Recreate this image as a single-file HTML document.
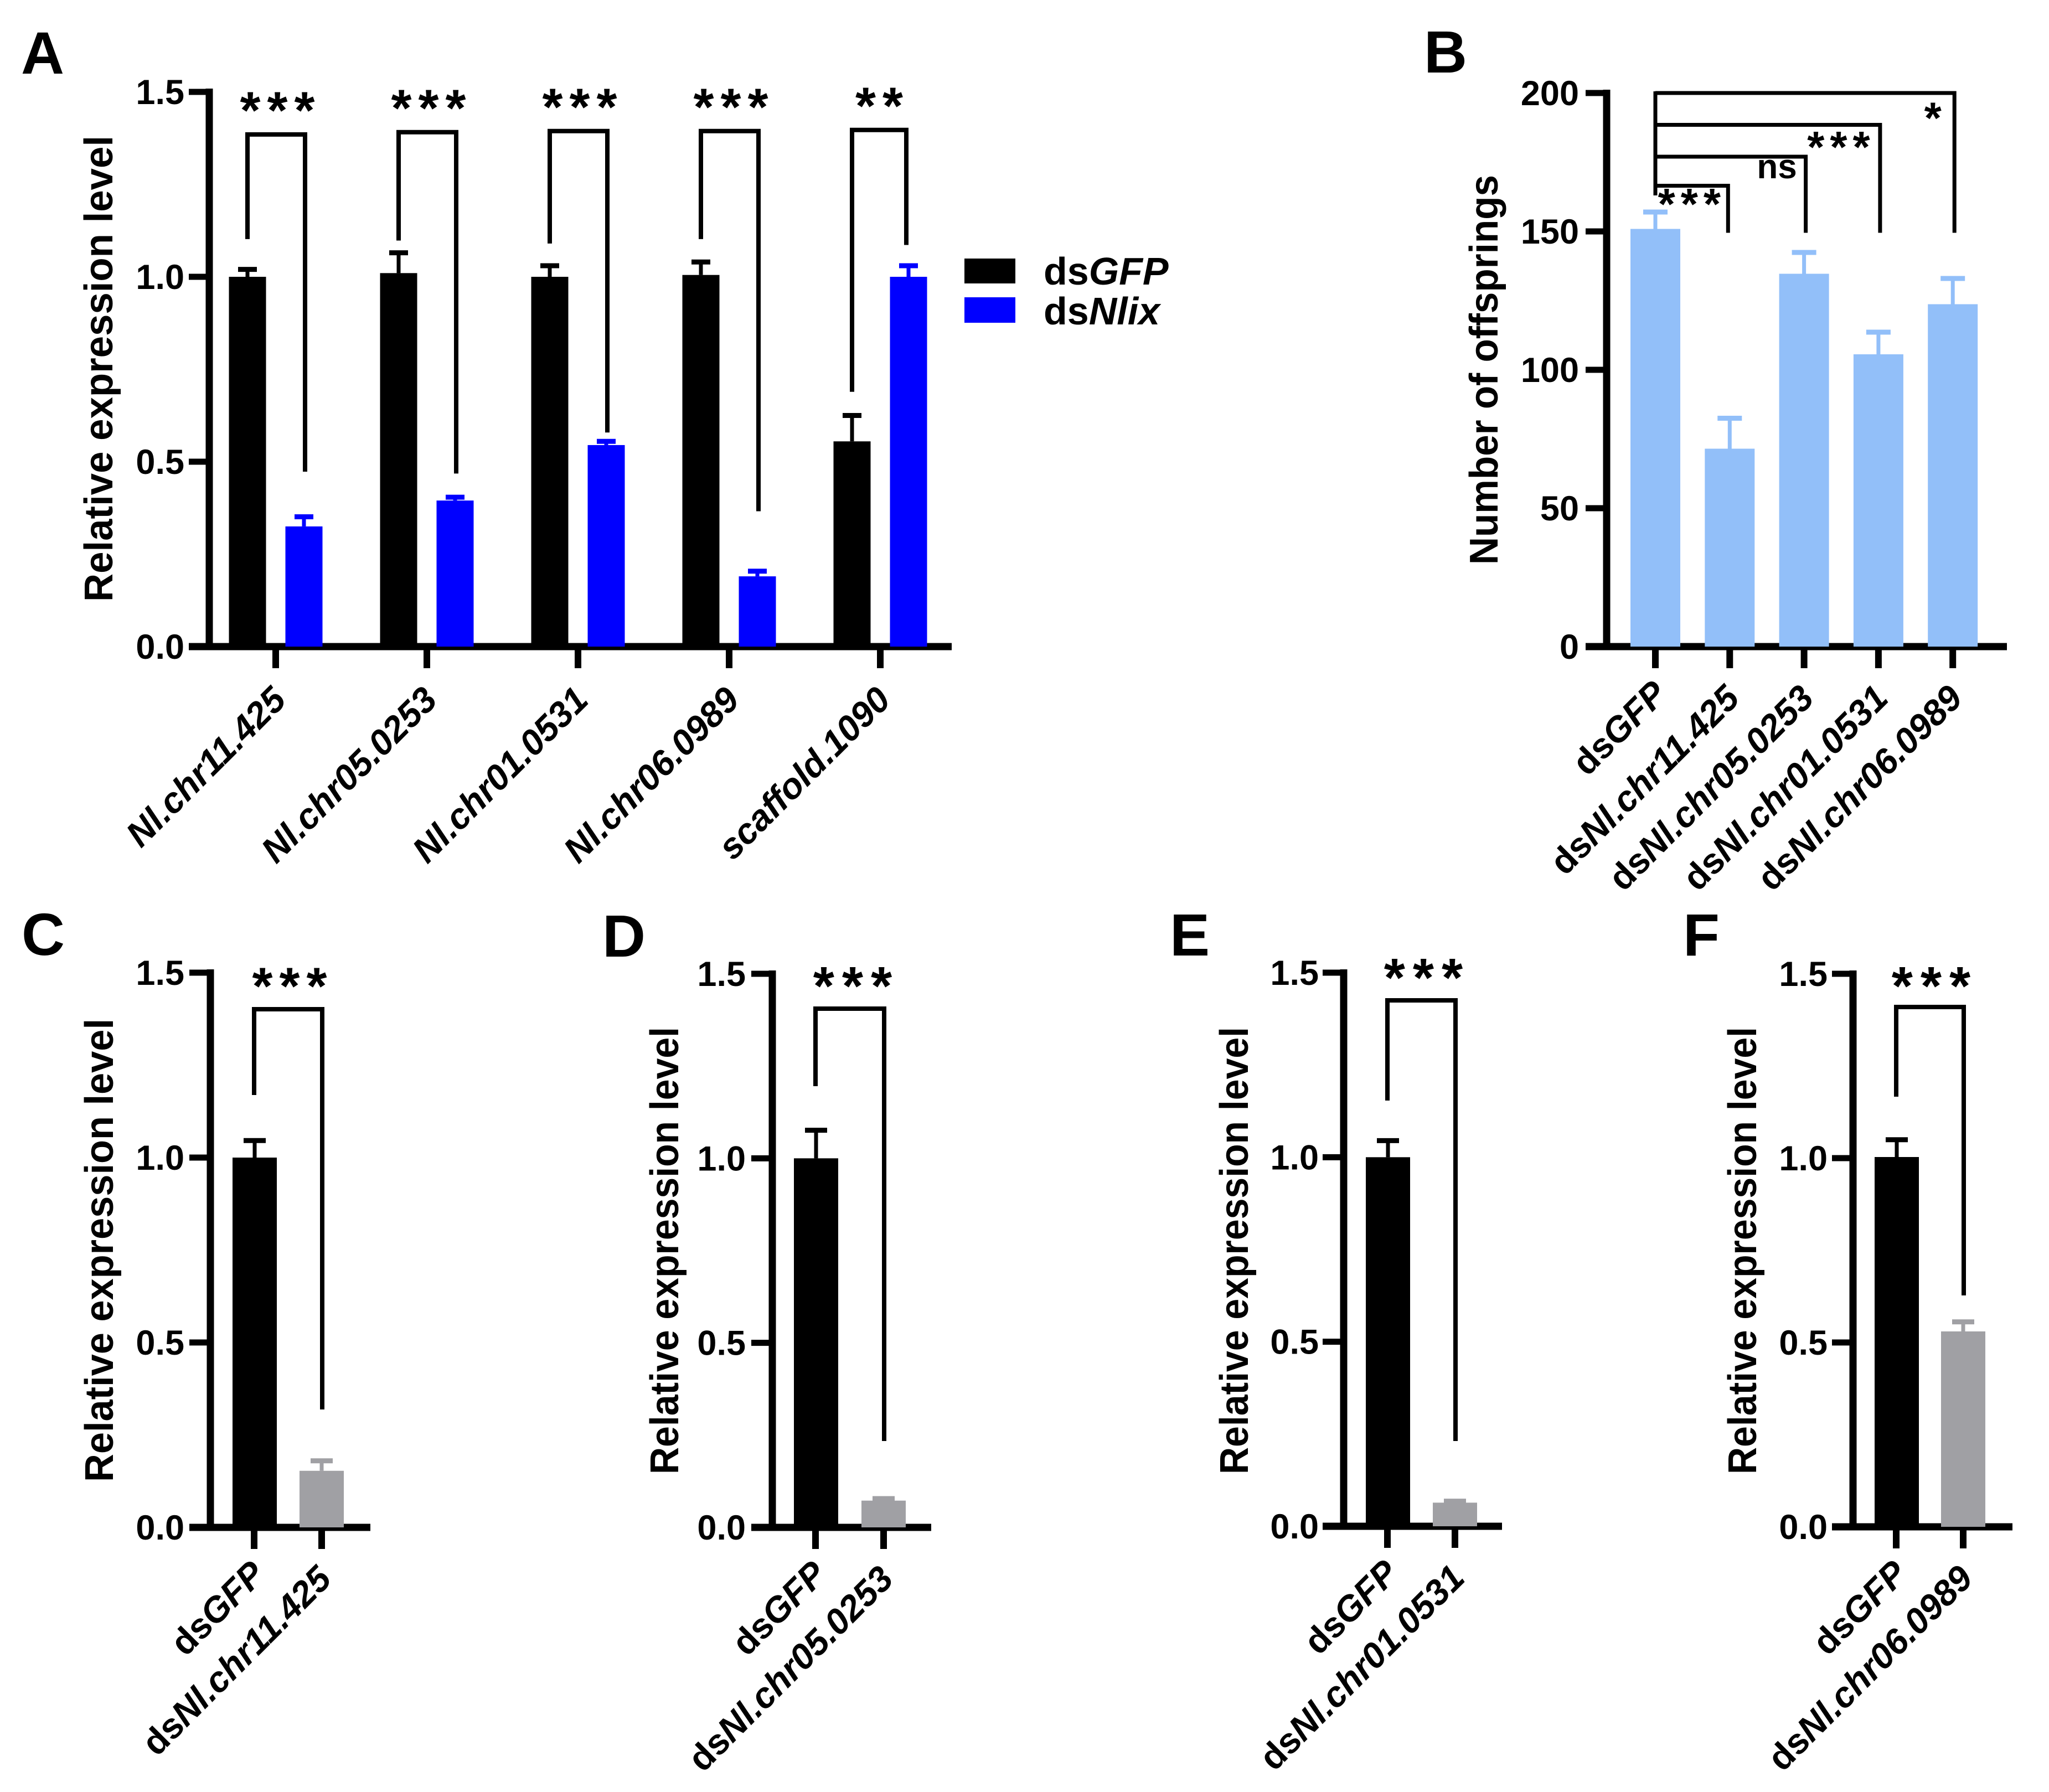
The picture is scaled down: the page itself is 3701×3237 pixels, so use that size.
<!DOCTYPE html>
<html lang="en">
<head>
<meta charset="utf-8">
<title>Relative expression and offspring bar charts</title>
<style>
html,body{margin:0;padding:0;background:#fff}
svg{display:block}
text{font-family:"Liberation Sans",Arial,sans-serif;font-weight:bold;fill:#000}
</style>
</head>
<body>
<svg id="figure" xmlns="http://www.w3.org/2000/svg" width="3701" height="3237" viewBox="0 0 3701 3237"></svg>
<script>
// ---- Panel A data ----
const categoriesA = ['Nl.chr11.425', 'Nl.chr05.0253', 'Nl.chr01.0531', 'Nl.chr06.0989', 'scaffold.1090'];
const dsGFPValuesA = [1.0, 1.01, 1.0, 1.005, 0.555];
const dsGFPErrorTopsA = [1.02, 1.065, 1.03, 1.04, 0.625];
const dsNlixValuesA = [0.325, 0.395, 0.545, 0.19, 1.0];
const dsNlixErrorTopsA = [0.351, 0.404, 0.555, 0.204, 1.03];
const significanceA = ['***', '***', '***', '***', '**'];
const bracketTopsA = [1.385, 1.391, 1.394, 1.394, 1.397];
const bracketLeftEndsA = [1.102, 1.098, 1.09, 1.102, 0.689];
const bracketRightEndsA = [0.473, 0.468, 0.579, 0.366, 1.086];
const yTicksExpression = [0, 0.5, 1.0, 1.5];

// ---- Panel B data ----
const categoriesB = ['GFP', 'Nl.chr11.425', 'Nl.chr05.0253', 'Nl.chr01.0531', 'Nl.chr06.0989'];
const offspringValues = [150.9, 71.5, 134.7, 105.6, 123.7];
const offspringErrorTops = [157, 82.5, 142.4, 113.6, 133];
const yTicksOffspring = [0, 50, 100, 150, 200];
const comparisonTargetsB = [1, 2, 3, 4];
const comparisonLevelsB = [166.5, 177, 188.5, 200];
const comparisonLabelsB = ['***', 'ns', '***', '*'];
const comparisonEndB = 149.5;
const comparisonStartEndB = 163;

// ---- Panels C-F data ----
const categoriesC = ['GFP', 'Nl.chr11.425'];
const valuesC = [1.0, 0.153];
const errorTopsC = [1.046, 0.18];
const categoriesD = ['GFP', 'Nl.chr05.0253'];
const valuesD = [1.0, 0.0725];
const errorTopsD = [1.076, 0.078];
const categoriesE = ['GFP', 'Nl.chr01.0531'];
const valuesE = [1.0, 0.064];
const errorTopsE = [1.045, 0.068];
const categoriesF = ['GFP', 'Nl.chr06.0989'];
const valuesF = [1.003, 0.53];
const errorTopsF = [1.05, 0.556];

const SVG_NS = 'http://www.w3.org/2000/svg';
const root = document.getElementById('figure');

function shape(parent, tag, attrs, name) {
  const el = document.createElementNS(SVG_NS, tag);
  for (const k in attrs) el.setAttribute(k, attrs[k]);
  
  
  parent.appendChild(el);
  return el;
}
function group(name) {
  const el = document.createElementNS(SVG_NS, 'g');
  
  
  root.appendChild(el);
  return el;
}
function label(parent, str, attrs, name) {
  const el = shape(parent, 'text', attrs, name);
  el.textContent = str;
  return el;
}
function linearY(domainMax, y0, yTop) {
  return v => y0 - (v / domainMax) * (y0 - yTop);
}
function line(parent, x1, y1, x2, y2, w, color, name) {
  return shape(parent, 'line', {x1: x1, y1: y1, x2: x2, y2: y2, stroke: color, 'stroke-width': w}, name);
}
function drawAxes(g, cfg, ticks, tickFormat, y, xTicks) {
  const t = 13;
  line(g, cfg.axisX, y(cfg.domainMax) - 6, cfg.axisX, cfg.y0 + 6.5, t, '#000', 'y-axis-line');
  line(g, cfg.xAxisLeft, cfg.y0, cfg.xAxisRight, cfg.y0, t, '#000', 'x-axis-line');
  ticks.forEach(v => {
    line(g, cfg.xAxisLeft, y(v), cfg.axisX, y(v), 11, '#000', 'y-tick');
    label(g, tickFormat(v), {x: cfg.tickLabelRight, y: y(v) + 22, 'font-size': 63, 'text-anchor': 'end'}, 'y-tick-label');
  });
  xTicks.forEach(x => {
    line(g, x, cfg.y0, x, cfg.y0 + 39, 12, '#000', 'x-tick');
  });
}
function yTitle(g, str, baselineX, top, bottom) {
  label(g, str, {
    transform: 'translate(' + baselineX + ',' + ((top + bottom) / 2) + ') rotate(-90)',
    'font-size': 72, 'text-anchor': 'middle', textLength: bottom - top, lengthAdjust: 'spacingAndGlyphs'
  }, 'y-axis-title');
}
function xLabel(g, prefix, italicText, endX, endY) {
  const t = shape(g, 'text', {
    transform: 'translate(' + endX + ',' + endY + ') rotate(-45)',
    'font-size': 64.5, 'text-anchor': 'end'
  }, 'x-tick-label');
  if (prefix) {
    const a = document.createElementNS(SVG_NS, 'tspan');
    a.textContent = prefix;
    t.appendChild(a);
  }
  const b = document.createElementNS(SVG_NS, 'tspan');
  b.setAttribute('font-style', 'italic');
  b.textContent = italicText;
  t.appendChild(b);
}
function bar(g, cx, width, value, errTop, y, y0, color, capW, name) {
  shape(g, 'rect', {x: cx - width / 2, y: y(value), width: width, height: y0 - y(value), fill: color}, name);
  line(g, cx, y(value), cx, y(errTop), 7, color, name + '-error-stem');
  line(g, cx - capW / 2, y(errTop), cx + capW / 2, y(errTop), 9, color, name + '-error-cap');
}
function stars(g, str, cx, cy, fs, spacing, name) {
  label(g, str, {x: cx + spacing / 2, y: cy + 0.48 * fs, 'font-size': fs, 'text-anchor': 'middle', 'letter-spacing': spacing}, name);
}
function bracket(g, xl, xr, top, leftEnd, rightEnd, w, name) {
  shape(g, 'polyline', {
    points: xl + ',' + leftEnd + ' ' + xl + ',' + top + ' ' + xr + ',' + top + ' ' + xr + ',' + rightEnd,
    fill: 'none', stroke: '#000', 'stroke-width': w, 'stroke-linejoin': 'miter'
  }, name);
}
function panelLetter(str, x, y) {
  label(root, str, {x: x, y: y, 'font-size': 108}, 'panel-label-' + str.toLowerCase());
}

// ---- Panel A ----
(function () {
  const g = group('panel-a-chart');
  const cfg = {axisX: 378, y0: 1168, domainMax: 1.5, xAxisLeft: 341, xAxisRight: 1719, tickLabelRight: 333};
  const y = linearY(1.5, 1168, 166);
  const tick = i => 498 + i * 273;
  const bracketSpan = i => (i === 4 ? 47 : 53);
  drawAxes(g, cfg, yTicksExpression, v => v.toFixed(1), y, categoriesA.map((c, i) => tick(i)));
  yTitle(g, 'Relative expression level', 203, 245, 1087);
  categoriesA.forEach((c, i) => {
    const xl = tick(i) - 51, xr = tick(i) + 51;
    bar(g, xl, 67, dsGFPValuesA[i], dsGFPErrorTopsA[i], y, 1168, '#000', 34, 'bar-dsgfp-' + c);
    bar(g, xr, 67, dsNlixValuesA[i], dsNlixErrorTopsA[i], y, 1168, '#0000ff', 34, 'bar-dsnlix-' + c);
    bracket(g, xl, tick(i) + bracketSpan(i), y(bracketTopsA[i]), y(bracketLeftEndsA[i]), y(bracketRightEndsA[i]), 8, 'significance-bracket');
    stars(g, significanceA[i], tick(i) + (i === 4 ? -2 : 3), y(bracketTopsA[i]) - 57, 95, 12, 'significance-label');
    xLabel(g, '', c, tick(i) + 22, 1268);
  });
  shape(root, 'rect', {x: 1742, y: 467, width: 92, height: 45, fill: '#000'}, 'legend-swatch-dsgfp');
  shape(root, 'rect', {x: 1742, y: 537, width: 92, height: 46, fill: '#0000ff'}, 'legend-swatch-dsnlix');
  const l1 = label(root, 'ds', {x: 1885, y: 514, 'font-size': 70}, 'legend-entry-dsgfp');
  const s1 = document.createElementNS(SVG_NS, 'tspan');
  s1.setAttribute('font-style', 'italic');
  s1.textContent = 'GFP';
  l1.appendChild(s1);
  const l2 = label(root, 'ds', {x: 1885, y: 586, 'font-size': 70}, 'legend-entry-dsnlix');
  const s2 = document.createElementNS(SVG_NS, 'tspan');
  s2.setAttribute('font-style', 'italic');
  s2.textContent = 'Nlix';
  l2.appendChild(s2);
})();

// ---- Panel B ----
(function () {
  const g = group('panel-b-chart');
  const cfg = {axisX: 2902, y0: 1168, domainMax: 200, xAxisLeft: 2864, xAxisRight: 3625, tickLabelRight: 2852};
  const y = linearY(200, 1168, 168);
  const tick = i => 2990 + i * 134.3;
  drawAxes(g, cfg, yTicksOffspring, v => String(v), y, categoriesB.map((c, i) => tick(i)));
  yTitle(g, 'Number of offsprings', 2705, 316, 1020);
  categoriesB.forEach((c, i) => {
    bar(g, tick(i), 90, offspringValues[i], offspringErrorTops[i], y, 1168, '#92bff9', 44, 'bar-' + c);
    xLabel(g, 'ds', c, tick(i) + (i === 0 ? 24 : 21), i === 0 ? 1257 : 1265);
  });
  line(g, tick(0), y(200) - 3, tick(0), y(comparisonStartEndB), 7, '#000', 'comparison-stem');
  comparisonTargetsB.forEach((t, i) => {
    const top = y(comparisonLevelsB[i]);
    const lx = tick(t) + (i === 0 ? -3 : 3);
    bracket(g, tick(0), lx, top, top, y(comparisonEndB), 7, 'comparison-bracket');
    if (comparisonLabelsB[i] === 'ns') {
      label(g, 'ns', {x: lx - 52, y: top + 39, 'font-size': 62, 'font-weight': 'normal', 'text-anchor': 'middle'}, 'comparison-label');
    } else if (comparisonLabelsB[i] === '*') {
      stars(g, '*', lx - 39, top + 34, 80, 0, 'comparison-label');
    } else {
      stars(g, comparisonLabelsB[i], lx - (i === 0 ? 70 : 75), top + (i === 0 ? 22 : 29), 80, 10, 'comparison-label');
    }
  });
})();

// ---- Panels C-F ----
function twoBarPanel(o) {
  const g = group(o.name);
  const cfg = {axisX: o.axisX, y0: o.y0, domainMax: 1.5, xAxisLeft: o.xAxisLeft, xAxisRight: o.xAxisRight, tickLabelRight: o.tickLabelRight};
  const y = linearY(1.5, o.y0, o.yTop);
  drawAxes(g, cfg, yTicksExpression, v => v.toFixed(1), y, o.ticks);
  yTitle(g, 'Relative expression level', o.titleX, o.titleTop, o.titleBottom);
  o.categories.forEach((c, i) => {
    bar(g, o.ticks[i] + (i === 0 ? 1 : 0), 80, o.values[i], o.errorTops[i], y, o.y0, i === 0 ? '#000' : '#a0a0a4', 40, 'bar-' + c);
    xLabel(g, 'ds', c, o.ticks[i] + (i === 0 ? 23 : 21), o.y0 + (i === 0 ? 88 : 97));
  });
  bracket(g, o.ticks[0], o.ticks[1] + 1, o.bracketTop, o.bracketLeftEnd, o.bracketRightEnd, 8, 'significance-bracket');
  stars(g, '***', o.starX, o.starY, o.starSize, o.starSpacing, 'significance-label');
}
twoBarPanel({name: 'panel-c-chart', categories: categoriesC, values: valuesC, errorTops: errorTopsC,
  axisX: 380, y0: 2759, yTop: 1757, xAxisLeft: 342, xAxisRight: 669, tickLabelRight: 333, ticks: [459, 581],
  titleX: 204, titleTop: 1840, titleBottom: 2677, bracketTop: 1823, bracketLeftEnd: 1978, bracketRightEnd: 2546, starX: 523, starY: 1768, starSize: 95, starSpacing: 12});
twoBarPanel({name: 'panel-d-chart', categories: categoriesD, values: valuesD, errorTops: errorTopsD,
  axisX: 1395, y0: 2759, yTop: 1759, xAxisLeft: 1357, xAxisRight: 1682, tickLabelRight: 1347, ticks: [1473, 1596],
  titleX: 1225, titleTop: 1855, titleBottom: 2663, bracketTop: 1822, bracketLeftEnd: 1962, bracketRightEnd: 2603, starX: 1540, starY: 1768, starSize: 98, starSpacing: 14});
twoBarPanel({name: 'panel-e-chart', categories: categoriesE, values: valuesE, errorTops: errorTopsE,
  axisX: 2427, y0: 2757, yTop: 1757, xAxisLeft: 2389, xAxisRight: 2713, tickLabelRight: 2382, ticks: [2506, 2628],
  titleX: 2254, titleTop: 1855, titleBottom: 2663, bracketTop: 1807, bracketLeftEnd: 1988, bracketRightEnd: 2603, starX: 2571, starY: 1753, starSize: 98, starSpacing: 14});
twoBarPanel({name: 'panel-f-chart', categories: categoriesF, values: valuesF, errorTops: errorTopsF,
  axisX: 3347, y0: 2758, yTop: 1759, xAxisLeft: 3309, xAxisRight: 3635, tickLabelRight: 3301, ticks: [3425, 3546],
  titleX: 3172, titleTop: 1855, titleBottom: 2663, bracketTop: 1819, bracketLeftEnd: 1981, bracketRightEnd: 2340, starX: 3488, starY: 1768, starSize: 98, starSpacing: 14});

panelLetter('A', 38, 133);
panelLetter('B', 2572, 131);
panelLetter('C', 39, 1725);
panelLetter('D', 1088, 1728);
panelLetter('E', 2113, 1726);
panelLetter('F', 3040, 1726);
</script>
</body>
</html>
